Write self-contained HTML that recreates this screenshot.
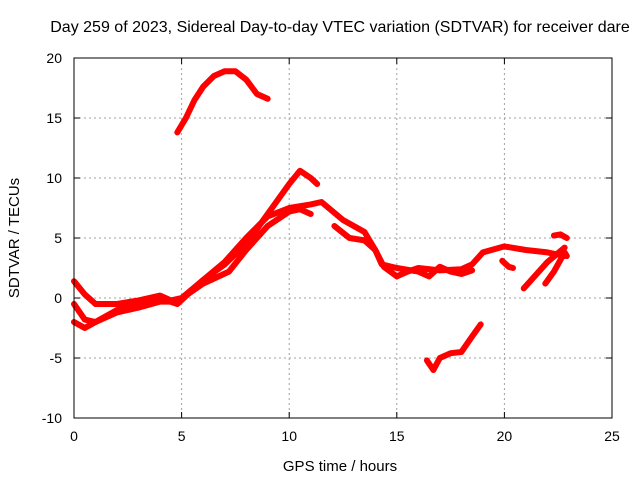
<!DOCTYPE html>
<html><head><meta charset="utf-8"><style>
body{margin:0;background:#fff}
svg{display:block;font-family:"Liberation Sans",sans-serif}
</style></head><body>
<svg id="chart" width="640" height="480">
<rect width="640" height="480" fill="#fff"/>
<text x="340" y="32" text-anchor="middle" font-size="16">Day 259 of 2023, Sidereal Day-to-day VTEC variation (SDTVAR) for receiver dare</text>
<g id="grid"></g><g id="series"></g><g id="axes"></g>
<text x="340" y="471" text-anchor="middle" font-size="15">GPS time / hours</text>
<text transform="translate(19,238) rotate(-90)" text-anchor="middle" font-size="15">SDTVAR / TECUs</text>
</svg>
<script>
const xTicks=[0,5,10,15,20,25];
const yTicks=[-10,-5,0,5,10,15,20];
const seriesArc=[[4.8,13.8],[5.2,15],[5.6,16.5],[6,17.6],[6.5,18.5],[7,18.9],[7.5,18.9],[8,18.2],[8.5,17],[9,16.6]];
const seriesPeak=[[0,1.4],[0.5,0.3],[1,-0.5],[2,-0.5],[3,-0.2],[4,0.2],[4.5,-0.2],[5,0],[6,1.5],[7,2.8],[8,4.5],[9,7],[10,9.5],[10.5,10.6],[11,10],[11.3,9.5]];
const seriesMain=[[0,-0.5],[0.5,-1.8],[1,-2],[2,-1],[3,-0.5],[4,0],[4.8,-0.5],[6,1.5],[7,3],[8,5],[9,6.8],[10,7.5],[11,7.8],[11.5,8],[12.5,6.5],[13.5,5.5],[14,4],[14.4,2.6],[15,1.8],[15.5,2.2],[16,2.5],[17,2.3],[18,2.4],[18.5,2.8],[19,3.8],[20,4.3],[21,4],[22,3.8],[22.8,3.5]];
const seriesLow=[[0,-2],[0.5,-2.5],[1,-2],[2,-1.2],[3,-0.8],[4,-0.3],[4.8,-0.3],[6,1.2],[7.2,2.2],[8,4],[9,6],[10,7.2],[10.5,7.4],[11,7]];
const seriesMid=[[12.1,6],[12.8,5],[13.5,4.8],[14,4],[14.3,2.8],[15,2.5],[16,2.2],[16.5,1.8],[17,2.6],[17.5,2.2],[18,2],[18.5,2.3]];
const seriesNeg=[[16.4,-5.2],[16.7,-6],[17,-5],[17.5,-4.6],[18,-4.5],[18.5,-3.2],[18.9,-2.2]];
const seriesSmall=[[19.9,3.1],[20.2,2.6],[20.4,2.5]];
const seriesRise1=[[20.9,0.8],[21.5,2],[22,3],[22.8,4.2]];
const seriesRise2=[[21.9,1.2],[22.3,2.2],[22.8,3.8],[22.9,3.5]];
const seriesTop=[[22.3,5.2],[22.6,5.3],[22.9,5]];
const allSeries=[seriesArc,seriesPeak,seriesMain,seriesLow,seriesMid,seriesNeg,seriesSmall,seriesRise1,seriesRise2,seriesTop];
const L=74,R=612,T=58,B=418;
const xs=h=>L+h/25*(R-L);
const ys=v=>B-(v+10)/30*(B-T);
const NS="http://www.w3.org/2000/svg";
function mk(tag,attrs,parent){const e=document.createElementNS(NS,tag);for(const k in attrs)e.setAttribute(k,attrs[k]);parent.appendChild(e);return e;}
const grid=document.getElementById('grid'),axes=document.getElementById('axes'),ser=document.getElementById('series');
xTicks.forEach(t=>{
  const x=xs(t);
  if(t>0&&t<25){const g=mk('line',{x1:x,x2:x,y1:T,y2:B,stroke:'#a0a0a0','stroke-dasharray':'2,3'},grid);
  
  }
  mk('line',{x1:x,x2:x,y1:B,y2:B-6,stroke:'#000'},axes);
  mk('line',{x1:x,x2:x,y1:T,y2:T+6,stroke:'#000'},axes);
  const tx=mk('text',{x:x,y:B+23,'text-anchor':'middle','font-size':14},axes);tx.textContent=t;
  
  
});
yTicks.forEach(t=>{
  const y=ys(t);
  if(t>-10&&t<20){const g=mk('line',{x1:L,x2:R,y1:y,y2:y,stroke:'#a0a0a0','stroke-dasharray':'2,3'},grid);
  
  }
  mk('line',{x1:L,x2:L+6,y1:y,y2:y,stroke:'#000'},axes);
  mk('line',{x1:R,x2:R-6,y1:y,y2:y,stroke:'#000'},axes);
  const tx=mk('text',{x:L-12,y:y+5,'text-anchor':'end','font-size':14},axes);tx.textContent=t;
  
  
});
const fr=mk('rect',{x:L,y:T,width:R-L,height:B-T,fill:'none',stroke:'#000','stroke-width':1},axes);


allSeries.forEach(s=>{
  const p=mk('polyline',{points:s.map(d=>xs(d[0])+','+ys(d[1])).join(' '),fill:'none',stroke:'#f00','stroke-width':6,'stroke-linejoin':'round','stroke-linecap':'round'},ser);
  
  
});
</script>
</body></html>
